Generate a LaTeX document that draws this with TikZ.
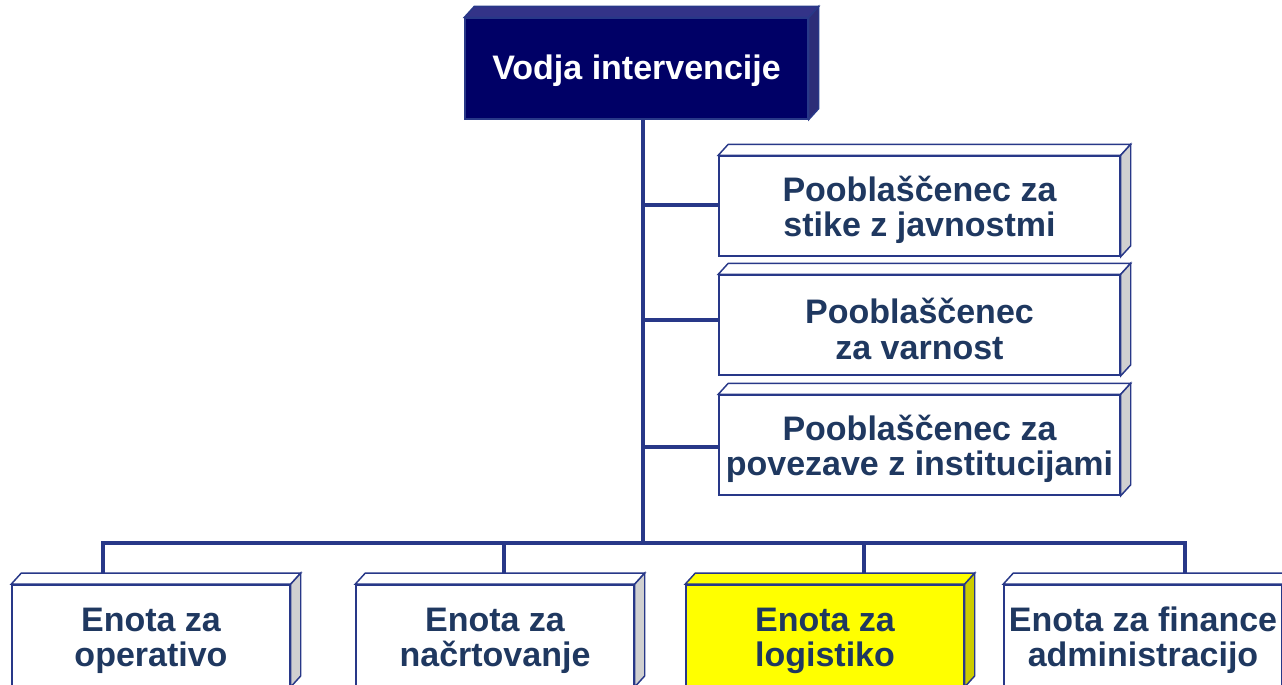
\documentclass[tikz,border=0pt]{standalone}
\usepackage{fontspec}
\setmainfont{Liberation Sans}
\definecolor{navyline}{RGB}{40,56,136}
\definecolor{txtblue}{RGB}{31,56,96}
\definecolor{rootfill}{RGB}{0,0,102}
\definecolor{roottop}{RGB}{51,51,136}
\definecolor{rootside}{RGB}{45,45,120}
\definecolor{greyside}{RGB}{208,208,208}
\definecolor{yellowfill}{RGB}{255,255,0}
\definecolor{yellowside}{RGB}{204,204,0}
\newcommand\drawfaces[3]{%
  \filldraw[edge, fill=#2] (#1.north west) -- ++(10,-11) -- ([shift={(10,-11)}]#1.north east) -- (#1.north east) -- cycle;
  \filldraw[edge, fill=#3] (#1.north east) -- ++(10,-11) -- ([shift={(10,-11)}]#1.south east) -- (#1.south east) -- cycle;}
\begin{document}
\begin{tikzpicture}[x=0.75pt,y=-0.75pt,
  edge/.style={draw=navyline, line width=1.1pt, line join=miter},
  conn/.style={draw=navyline, line width=3pt},
  boxtext/.style={font=\fontsize{25.5}{26.3}\selectfont\bfseries, text=txtblue, align=center},
  frontbox/.style={edge, boxtext, fill=white, inner sep=0pt, minimum height=75.5pt},
  rootbox/.style={frontbox, fill=rootfill, text=white, minimum width=257.25pt},
  sidebox/.style={frontbox, minimum width=300.75pt, minimum height=75pt},
  unitbox/.style={frontbox, minimum width=208.5pt, minimum height=76pt}]
\useasboundingbox (0,0) rectangle (1282,685);
\clip (0,0) rectangle (1282,685);

% coordinates of connector junctions
\coordinate (bus) at (643,543);
\coordinate (t1) at (103,543);
\coordinate (t2) at (504,543);
\coordinate (t3) at (864,543);
\coordinate (t4) at (1185,543);

% root
\node[rootbox] (root) at (636.5,68.5) {\rule{0pt}{22pt}Vodja intervencije};

% side boxes
\node[sidebox] (s1) at (919.5,206) {\rule{0pt}{25pt}Pooblaščenec za\\stike z javnostmi};
\node[sidebox] (s2) at (919.5,325) {\rule{0pt}{25pt}Pooblaščenec\\za varnost};
\node[sidebox] (s3) at (919.5,445) {\rule{0pt}{25pt}Pooblaščenec za\\povezave z institucijami};

% unit boxes
\node[unitbox] (u1) at (151,635.5) {\rule{0pt}{26pt}Enota za\\operativo};
\node[unitbox] (u2) at (495,635.5) {\rule{0pt}{26pt}Enota za\\načrtovanje};
\node[unitbox, fill=yellowfill] (u3) at (825,635.5) {\rule{0pt}{26pt}Enota za\\logistiko};
\node[unitbox] (u4) at (1143,635.5) {\rule{0pt}{26pt}Enota za finance\\administracijo};

% connectors
\draw[conn] (root.south -| bus) -- (bus);
\draw[conn] ([yshift=0.75pt]s1.west -| bus) -- ([yshift=0.75pt]s1.west);
\draw[conn] ([yshift=3.75pt]s2.west -| bus) -- ([yshift=3.75pt]s2.west);
\draw[conn] ([yshift=-1.5pt]s3.west -| bus) -- ([yshift=-1.5pt]s3.west);
\draw[conn, line cap=rect] (t1) -- (t4);
\draw[conn] (t1) -- (t1 |- u1.north);
\draw[conn] (t2) -- (t2 |- u2.north);
\draw[conn] (t3) -- (t3 |- u3.north);
\draw[conn] (t4) -- (t4 |- u4.north);

% 3D faces
\drawfaces{root}{roottop}{rootside}
\drawfaces{s1}{white}{greyside}
\drawfaces{s2}{white}{greyside}
\drawfaces{s3}{white}{greyside}
\drawfaces{u1}{white}{greyside}
\drawfaces{u2}{white}{greyside}
\drawfaces{u3}{yellowfill}{yellowside}
\drawfaces{u4}{white}{greyside}
\end{tikzpicture}
\end{document}
